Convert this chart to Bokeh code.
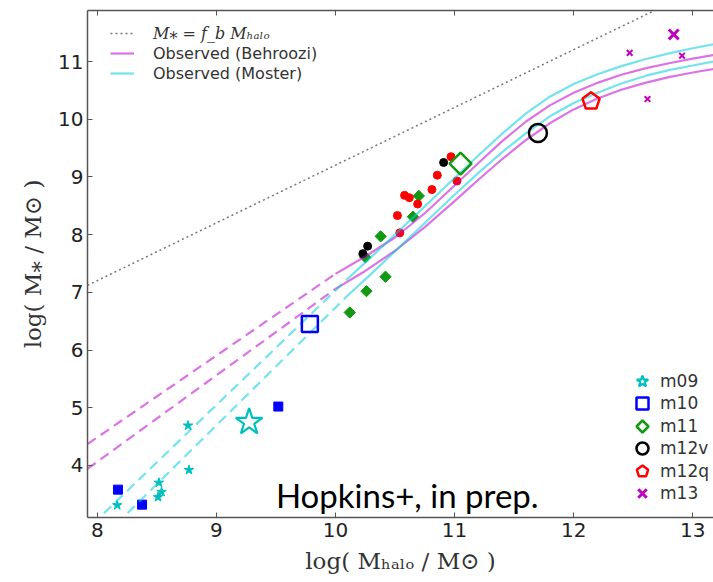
import numpy as np
from bokeh.plotting import figure
from bokeh.models import Range1d, FixedTicker, Legend, LegendItem, Label, LinearAxis
from bokeh.embed import file_html
from bokeh.resources import INLINE

# ---------------- data ----------------
xticks = [8, 9, 10, 11, 12, 13]
yticks = [4, 5, 6, 7, 8, 9, 10, 11]

# baryon-fraction line M* = f_b M_halo (end points)
fb_x = [7.918, 13.174]
fb_y = [7.12, 12.38]

# Behroozi envelope (solid part)
beh_x = [10.0, 10.25, 10.5, 10.75, 11.0, 11.2, 11.4, 11.6, 11.8, 12.0, 12.2, 12.4, 12.6, 12.8, 13.0, 13.2]
beh_hi = [7.32, 7.62, 7.95, 8.37, 8.85, 9.24, 9.62, 9.96, 10.24, 10.46, 10.63, 10.77, 10.88, 10.97, 11.05, 11.12]
beh_lo = [7.06, 7.37, 7.72, 8.13, 8.58, 8.95, 9.31, 9.64, 9.93, 10.17, 10.36, 10.51, 10.63, 10.73, 10.81, 10.88]
# Behroozi extrapolation (dashed)
beh_hi_dx = [7.918, 10.0]
beh_hi_dy = [4.37, 7.32]
beh_lo_dx = [7.918, 10.0]
beh_lo_dy = [3.94, 7.06]

# Moster envelope (solid part)
mos_x = [10.1, 10.3, 10.5, 10.75, 11.0, 11.2, 11.4, 11.6, 11.8, 12.0, 12.2, 12.4, 12.6, 12.8, 13.0, 13.2]
mos_hi = [7.23, 7.61, 8.0, 8.49, 8.98, 9.37, 9.75, 10.1, 10.39, 10.61, 10.78, 10.92, 11.04, 11.14, 11.23, 11.31]
mos_lo = [6.94, 7.32, 7.71, 8.2, 8.69, 9.07, 9.43, 9.76, 10.05, 10.28, 10.46, 10.62, 10.75, 10.85, 10.93, 11.01]
# Moster extrapolation (dashed)
mos_hi_dx = [7.96, 10.1]
mos_hi_dy = [2.98, 7.23]
mos_lo_dx = [8.16, 10.1]
mos_lo_dy = [2.98, 6.94]

# main simulations (big open markers)
m09_x, m09_y = [9.275], [4.75]
m10_x, m10_y = [9.785], [6.45]
m11_x, m11_y = [11.05], [9.23]
m12v_x, m12v_y = [11.70], [9.76]
m12q_x, m12q_y = [12.146], [10.31]
m13_x, m13_y = [12.84], [11.47]

# other runs (small filled markers)
s09_x = [8.762, 8.77, 8.518, 8.54, 8.51, 8.168]
s09_y = [4.69, 3.92, 3.70, 3.54, 3.45, 3.31]
s10_x = [8.174, 8.376, 9.52]
s10_y = [3.58, 3.32, 5.02]
s11_x = [10.12, 10.26, 10.25, 10.42, 10.38, 10.65, 10.70]
s11_y = [6.65, 7.02, 7.61, 7.27, 7.97, 8.31, 8.67]
s12v_x = [10.908, 10.27, 10.23]
s12v_y = [9.25, 7.80, 7.67]
s12q_x = [10.97, 10.855, 11.02, 10.81, 10.58, 10.62, 10.69, 10.52, 10.54]
s12q_y = [9.35, 9.03, 8.93, 8.78, 8.68, 8.64, 8.53, 8.33, 8.03]
s13_x = [12.47, 12.91, 12.62]
s13_y = [11.15, 11.10, 10.35]

# ---------------- styling ----------------
C_CYAN = "#00bfbf"
C_BLUE = "#0000ff"
C_GREEN = "#119911"
C_BLACK = "#000000"
C_RED = "#ff0000"
C_MAG = "#bf00bf"
L_MAG = "#c000d0"
L_CYAN = "#00ccdd"
AX = "#555555"

p = figure(width=713, height=580,
           x_range=Range1d(7.918, 13.174), y_range=Range1d(3.097, 11.884),
           output_backend="svg", toolbar_location=None,
           min_border_left=87, min_border_right=0, min_border_top=10, min_border_bottom=63)
p.grid.visible = False
p.outline_line_color = None
p.background_fill_color = "white"
p.border_fill_color = "white"

p.xaxis.ticker = FixedTicker(ticks=xticks)
p.yaxis.ticker = FixedTicker(ticks=yticks)
for ax in (p.xaxis[0], p.yaxis[0]):
    ax.major_tick_in = 5
    ax.major_tick_out = 0
    ax.minor_tick_line_color = None
    ax.axis_line_color = AX
    ax.axis_line_width = 1.5
    ax.major_tick_line_color = AX
    ax.major_tick_line_width = 1
    ax.major_label_text_font = "DejaVu Sans"
    ax.major_label_text_font_size = "20px"
    ax.major_label_text_color = "#222222"
    ax.axis_label_text_font = "DejaVu Serif"
    ax.axis_label_text_font_size = "23px"
    ax.axis_label_text_font_style = "normal"
    ax.axis_label_text_color = "#333333"
p.xaxis.axis_label = "log( Mₕₐₗₒ / M⊙ )"
p.yaxis.axis_label = "log( M⁎ / M⊙ )"
p.xaxis.major_label_standoff = 5
p.xaxis.axis_label_standoff = 8
p.yaxis.major_label_standoff = 4
p.yaxis.axis_label_standoff = 9

# top frame line with inward ticks (labels not drawn)
top_ax = LinearAxis(ticker=FixedTicker(ticks=xticks), major_tick_in=5, major_tick_out=0,
                    minor_tick_line_color=None, major_label_text_color=None,
                    major_label_text_font_size="4px", major_label_standoff=0,
                    axis_line_color=AX, axis_line_width=1.5, major_tick_line_color=AX)
p.add_layout(top_ax, "above")

# small filled markers
p.scatter(s09_x, s09_y, marker="star", size=10, fill_color=C_CYAN, line_color=C_CYAN)
p.scatter(s10_x, s10_y, marker="square", size=9, fill_color=C_BLUE, line_color=C_BLUE)
p.scatter(s11_x, s11_y, marker="square", angle=np.pi / 4, size=8, fill_color=C_GREEN, line_color=C_GREEN)
p.scatter(s12v_x, s12v_y, marker="circle", size=8, fill_color=C_BLACK, line_color=C_BLACK)
p.scatter(s12q_x, s12q_y, marker="circle", size=8, fill_color=C_RED, line_color=C_RED)
p.scatter(s13_x, s13_y, marker="x", size=8, line_color=C_MAG, line_width=2)

# reference lines
r_fb = p.line(fb_x, fb_y, line_color="#777777", line_width=1.5, line_dash="2 3")
r_bh = p.line(beh_x, beh_hi, line_color=L_MAG, line_alpha=0.55, line_width=2.2)
p.line(beh_x, beh_lo, line_color=L_MAG, line_alpha=0.55, line_width=2.2)
r_mh = p.line(mos_x, mos_hi, line_color=L_CYAN, line_alpha=0.55, line_width=2.2)
p.line(mos_x, mos_lo, line_color=L_CYAN, line_alpha=0.55, line_width=2.2)
p.line(beh_hi_dx, beh_hi_dy, line_color=L_MAG, line_alpha=0.55, line_width=2.2, line_dash="10 6")
p.line(beh_lo_dx, beh_lo_dy, line_color=L_MAG, line_alpha=0.55, line_width=2.2, line_dash="10 6")
p.line(mos_hi_dx, mos_hi_dy, line_color=L_CYAN, line_alpha=0.55, line_width=2.2, line_dash="10 6")
p.line(mos_lo_dx, mos_lo_dy, line_color=L_CYAN, line_alpha=0.55, line_width=2.2, line_dash="10 6")

# big open markers
r09 = p.scatter(m09_x, m09_y, marker="star", size=28, fill_color=None, line_color=C_CYAN, line_width=2.2)
r10 = p.scatter(m10_x, m10_y, marker="square", size=16, fill_color=None, line_color=C_BLUE, line_width=2.5)
r11 = p.ngon(m11_x, m11_y, radius=11, radius_units="screen", n=4, fill_color=None, line_color=C_GREEN, line_width=2.5)
r12v = p.scatter(m12v_x, m12v_y, marker="circle", size=18, fill_color=None, line_color=C_BLACK, line_width=2.5)
r12q = p.ngon(m12q_x, m12q_y, radius=9, radius_units="screen", n=5, fill_color=None, line_color=C_RED, line_width=2.5)
r13 = p.scatter(m13_x, m13_y, marker="x", size=14, line_color=C_MAG, line_width=3)

leg_common = dict(padding=0, margin=0, background_fill_alpha=0, border_line_color=None)

leg_fb = Legend(items=[LegendItem(label="M⁎ = f_b Mₕₐₗₒ", renderers=[r_fb])],
                location=(23, 474), spacing=0, label_height=20, glyph_height=20, glyph_width=24,
                label_standoff=19, label_text_font="DejaVu Serif", label_text_font_style="italic",
                label_text_font_size="16px", label_text_color="#333333", **leg_common)
p.add_layout(leg_fb)

leg_obs = Legend(items=[LegendItem(label="Observed (Behroozi)", renderers=[r_bh]),
                        LegendItem(label="Observed (Moster)", renderers=[r_mh])],
                 location=(23, 434), spacing=0, label_height=20, glyph_height=20, glyph_width=24,
                 label_standoff=19, label_text_font="DejaVu Sans",
                 label_text_font_size="16px", label_text_color="#333333", **leg_common)
p.add_layout(leg_obs)

# simulation legend: two interleaved columns of rows so the keys can be larger
sim_style = dict(spacing=15, label_height=30, glyph_height=30, glyph_width=30, label_standoff=3,
                 label_text_font="DejaVu Sans", label_text_font_size="17px",
                 label_text_color="#333333", **leg_common)
leg_sim_a = Legend(items=[LegendItem(label="m09", renderers=[r09]),
                          LegendItem(label="m11", renderers=[r11]),
                          LegendItem(label="m12q", renderers=[r12q])],
                   location=(540, 31), **sim_style)
leg_sim_b = Legend(items=[LegendItem(label="m10", renderers=[r10]),
                          LegendItem(label="m12v", renderers=[r12v]),
                          LegendItem(label="m13", renderers=[r13])],
                   location=(540, 9), **sim_style)
p.add_layout(leg_sim_a)
p.add_layout(leg_sim_b)

p.add_layout(Label(x=9.50, y=3.49, text="Hopkins+, in prep.", text_font="Lato",
                   text_font_size="33px", text_color="black", text_baseline="middle"))

open("out.html", "w").write(file_html(p, INLINE))
